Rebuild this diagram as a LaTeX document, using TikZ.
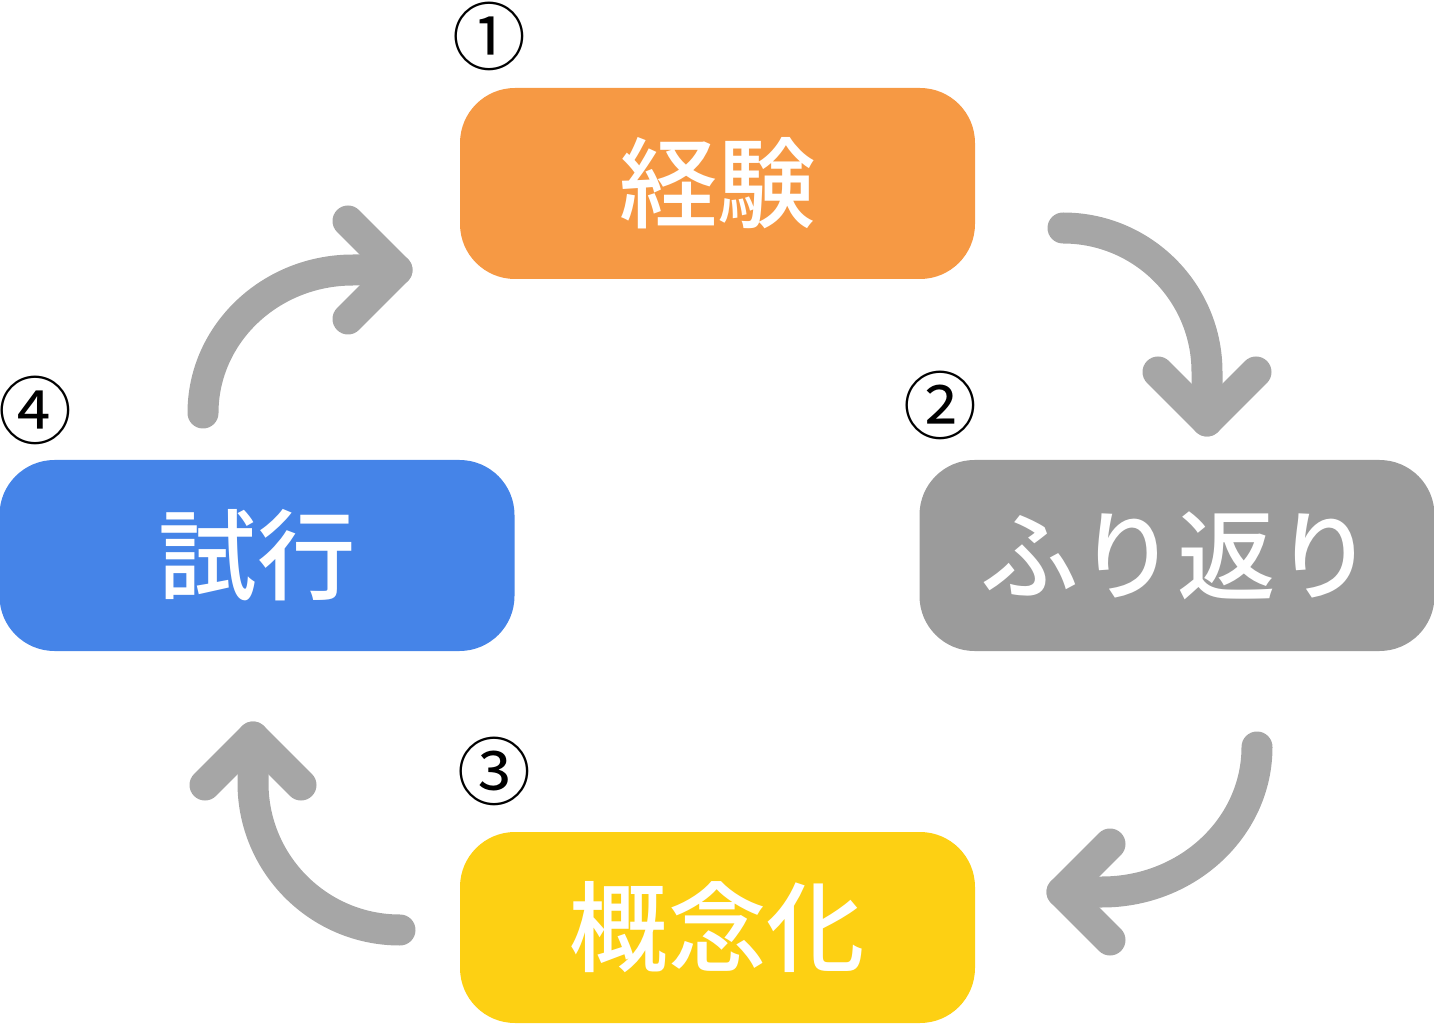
\documentclass[tikz,border=0pt]{standalone}
\usepackage{fontspec}
\newfontfamily\jp{Noto Sans CJK JP}[BoldFont={Noto Sans CJK JP Medium}]
\definecolor{keikenC}{HTML}{F69944}
\definecolor{furiC}{HTML}{9B9B9B}
\definecolor{gainenC}{HTML}{FDD013}
\definecolor{shikouC}{HTML}{4584E8}
\definecolor{arrowC}{HTML}{A6A6A6}
\begin{document}
\begin{tikzpicture}[
	box/.style={rounded corners=0.55cm, minimum width=5.15cm, minimum height=1.91cm, inner sep=0pt, text=white, font=\jp\bfseries\fontsize{28}{28}\selectfont},
	num/.style={inner sep=0pt, font=\jp\fontsize{21}{21}\selectfont},
	cyc/.style={draw=arrowC, line width=0.31cm, line cap=round, line join=round}]
		\useasboundingbox (0,0) rectangle (14.34,10.24);
		\node[box, fill=keikenC] (Keiken) at (7.175,8.405) {経験};
		\node[box, fill=furiC] (Furikaeri) at (11.77,4.685) {ふり返り};
		\node[box, fill=gainenC] (Gainen) at (7.175,0.965) {概念化};
		\node[box, fill=shikouC] (Shikou) at (2.57,4.685) {試行};
		\node[num] (N1) at (4.89,9.88) {①};
		\node[num] (N2) at (9.40,6.19) {②};
		\node[num] (N3) at (4.94,2.53) {③};
		\node[num] (N4) at (0.35,6.14) {④};
		% Arrows
		\coordinate (s1) at (10.63,7.96);
		\coordinate (t1) at (12.07,6.03);
		\coordinate (s2) at (12.57,2.77);
		\coordinate (t2) at (10.62,1.32);
		\coordinate (s3) at (4.00,0.94);
		\coordinate (t3) at (2.53,2.87);
		\coordinate (s4) at (2.03,6.11);
		\coordinate (t4) at (3.97,7.54);
		\draw[cyc] (s1) arc[start angle=90, end angle=0, radius=1.44] -- (t1);
		\draw[cyc] (t1) ++(-0.49,0.49) -- (t1) -- ++(0.49,0.49);
		\draw[cyc] (s2) arc[start angle=0, end angle=-90, x radius=1.55, y radius=1.45] -- (t2);
		\draw[cyc] (t2) ++(0.48,0.48) -- (t2) -- ++(0.48,-0.48);
		\draw[cyc] (s3) arc[start angle=270, end angle=180, radius=1.47] -- (t3);
		\draw[cyc] (t3) ++(-0.48,-0.48) -- (t3) -- ++(0.48,-0.48);
		\draw[cyc] (s4) arc[start angle=180, end angle=90, x radius=1.50, y radius=1.43] -- (t4);
		\draw[cyc] (t4) ++(-0.49,0.49) -- (t4) -- ++(-0.49,-0.49);
	\end{tikzpicture}
\end{document}
